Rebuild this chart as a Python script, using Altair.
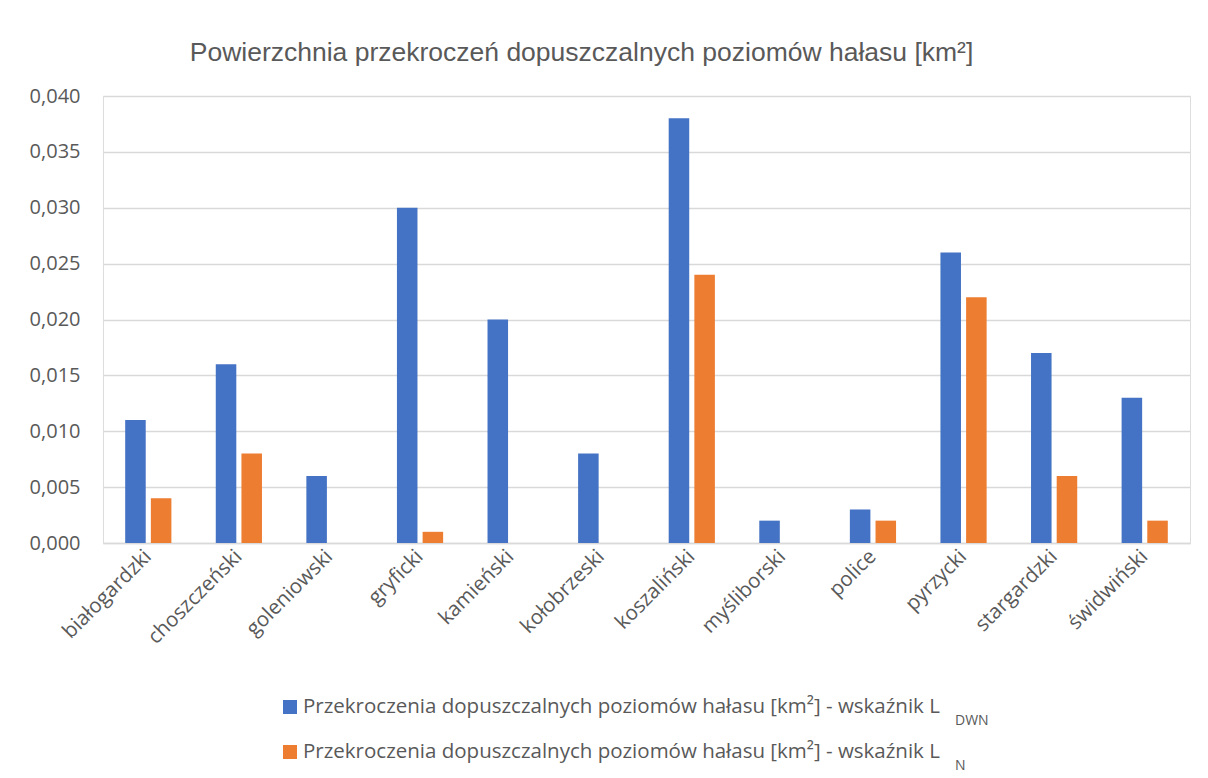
import altair as alt
import pandas as pd

# ---- data ----
powiaty = ["białogardzki", "choszczeński", "goleniowski", "gryficki", "kamieński",
           "kołobrzeski", "koszaliński", "myśliborski", "police", "pyrzycki",
           "stargardzki", "świdwiński"]
l_dwn = [0.011, 0.016, 0.006, 0.030, 0.020, 0.008, 0.038, 0.002, 0.003, 0.026, 0.017, 0.013]
l_n = [0.004, 0.008, 0.0, 0.001, 0.0, 0.0, 0.024, 0.0, 0.002, 0.022, 0.006, 0.002]

series = ["LDWN", "LN"]
legend_main = "Przekroczenia dopuszczalnych poziomów hałasu [km²] - wskaźnik L"
legend_sub = ["DWN", "N"]
colors = ["#4472C4", "#ED7D31"]
title_text = "Powierzchnia przekroczeń dopuszczalnych poziomów hałasu [km²]"

y_ticks = [0.0, 0.005, 0.010, 0.015, 0.020, 0.025, 0.030, 0.035, 0.040]

# ---- tables ----
rows = []
for p, a, b in zip(powiaty, l_dwn, l_n):
    rows.append({"powiat": p, "series": series[0], "value": a})
    rows.append({"powiat": p, "series": series[1], "value": b})
df = pd.DataFrame(rows)

legend_df = pd.DataFrame({"series": series, "main": [legend_main] * 2, "sub": legend_sub})

TEXT = "#595959"
GRID = "#D9D9D9"
FONT = "Open Sans"

color_scale = alt.Scale(domain=series, range=colors)

bars = alt.Chart(df).mark_bar().encode(
    x=alt.X("powiat:N", sort=powiaty, title=None,
            scale=alt.Scale(paddingInner=0.49, paddingOuter=0.245),
            axis=alt.Axis(labelAngle=-45, labelAlign="right", labelBaseline="middle",
                          labelFont=FONT, labelFontSize=20.5, labelColor=TEXT,
                          labelPadding=10, ticks=False, domainColor=GRID, domainWidth=1.5,
                          grid=False)),
    xOffset=alt.XOffset("series:N", sort=series, scale=alt.Scale(paddingInner=0.2)),
    y=alt.Y("value:Q", title=None,
            scale=alt.Scale(domain=[0, 0.04], nice=False),
            axis=alt.Axis(values=y_ticks, labelExpr="replace(format(datum.value, '.3f'), '.', ',')",
                          labelFont=FONT, labelFontSize=20, labelColor=TEXT, labelPadding=23,
                          ticks=False, domain=False, gridColor=GRID, gridWidth=1.5)),
    color=alt.Color("series:N", scale=color_scale, legend=None),
)

leg_y = alt.Y("series:N", scale=alt.Scale(domain=series, range=[611, 656], padding=0), axis=None)

leg_sq = alt.Chart(legend_df).mark_square(size=196, opacity=1).encode(
    x=alt.value(187), y=leg_y,
    color=alt.Color("series:N", scale=color_scale, legend=None),
)
leg_txt = alt.Chart(legend_df).mark_text(align="left", baseline="middle", font=FONT,
                                          fontSize=20.5, color=TEXT).encode(
    x=alt.value(200), y=leg_y, text="main:N")
leg_sub = alt.Chart(legend_df).mark_text(align="left", baseline="middle", font=FONT,
                                          fontSize=14, color=TEXT, dy=14).encode(
    x=alt.value(852), y=leg_y, text="sub:N")

legend_layer = alt.layer(leg_sq, leg_txt, leg_sub)

chart = alt.layer(bars, legend_layer).resolve_scale(y="independent").properties(
    width=1087, height=447,
    title=alt.TitleParams(title_text, font="Liberation Sans", fontSize=26.5, fontWeight="normal",
                          color=TEXT, anchor="middle", dx=-65, offset=20),
    autosize=alt.AutoSizeParams(type="none"),
    padding={"left": 95, "top": 88, "right": 10, "bottom": 230},
).configure_view(stroke=None).configure(background="white")

chart.save("out.html", embed_options={"renderer": "svg", "actions": False})
